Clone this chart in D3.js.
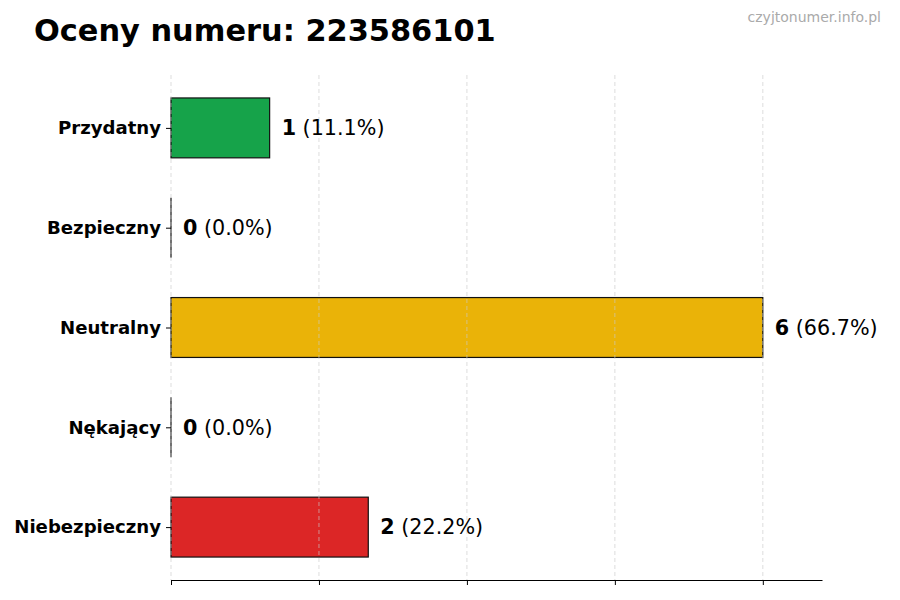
<!DOCTYPE html>
<meta charset="utf-8">
<script src="https://d3js.org/d3.v7.min.js"></script>
<style>
  body { margin: 0; background: #fff; }
  text { font-family: "DejaVu Sans", sans-serif; }
</style>
<svg id="chart" width="900" height="600"></svg>
<script>
// data
const categories = ["Przydatny", "Bezpieczny", "Neutralny", "Nękający", "Niebezpieczny"];
const counts = [1, 0, 6, 0, 2];
const colors = ["#16a34a", "#22c55e", "#eab308", "#f97316", "#dc2626"];
const xTicks = [0, 1.5, 3, 4.5, 6];

const total = d3.sum(counts);
const svg = d3.select("#chart");

const mLeft = 171, mRight = 822, mTop = 75, mBottom = 580;

const x = d3.scaleLinear().domain([0, 6.6]).range([mLeft, mRight]);
// index scale, bars 0.6 tall with the usual 5% margins
const y = d3.scaleLinear().domain([-0.53, 4.53]).range([mTop, mBottom]);
const barH = y(0.3) - y(0);

// title + watermark
svg.append("text")
  .attr("x", 34).attr("y", 41)
  .attr("font-size", 30.4).attr("font-weight", "bold")
  .text("Oceny numeru: 223586101");

svg.append("text")
  .attr("x", 881).attr("y", 22)
  .attr("text-anchor", "end")
  .attr("font-size", 14).attr("fill", "#aaaaaa")
  .text("czyjtonumer.info.pl");

// bars
svg.append("g")
  .selectAll("rect")
  .data(counts)
  .join("rect")
    .attr("x", x(0))
    .attr("y", (d, i) => y(i) - barH)
    .attr("width", d => x(d) - x(0))
    .attr("height", barH * 2)
    .attr("fill", (d, i) => colors[i])
    .attr("stroke", "#111")
    .attr("stroke-width", 1.2);

// zero bars still show their edge
svg.append("g")
  .selectAll("line")
  .data(counts.map((d, i) => ({ d, i })).filter(o => o.d === 0))
  .join("line")
    .attr("x1", x(0)).attr("x2", x(0))
    .attr("y1", o => y(o.i) - barH).attr("y2", o => y(o.i) + barH)
    .attr("stroke", "#111")
    .attr("stroke-width", 1.2);

// grid drawn over the bars
svg.append("g")
  .selectAll("line")
  .data(xTicks)
  .join("line")
    .attr("x1", d => x(d)).attr("x2", d => x(d))
    .attr("y1", mTop).attr("y2", mBottom)
    .attr("stroke", "#cccccc")
    .attr("stroke-width", 0.8)
    .attr("stroke-dasharray", "4,3")
    .attr("opacity", 0.8);

// bottom axis, no labels
const xAxis = svg.append("g")
  .attr("transform", `translate(0,${mBottom})`)
  .call(d3.axisBottom(x).tickValues(xTicks).tickFormat("").tickSize(5).tickSizeOuter(0));
xAxis.select(".domain").attr("stroke", "#000").attr("stroke-width", 1.2);
xAxis.selectAll(".tick line").attr("stroke", "#000").attr("stroke-width", 1);

// left axis: ticks and labels, no spine
const yAxis = svg.append("g")
  .attr("transform", `translate(${mLeft},0)`)
  .call(d3.axisLeft(y).tickValues(d3.range(categories.length))
    .tickFormat(i => categories[i]).tickSize(5).tickPadding(5));
yAxis.select(".domain").remove();
yAxis.selectAll(".tick line").attr("stroke", "#000");
yAxis.selectAll(".tick text")
  .attr("font-family", "DejaVu Sans, sans-serif")
  .attr("font-size", 18.1).attr("font-weight", "bold").attr("fill", "#000");

// value labels
const lbl = svg.append("g")
  .selectAll("text")
  .data(counts)
  .join("text")
    .attr("x", d => x(d) + 12)
    .attr("y", (d, i) => y(i))
    .attr("dy", "0.35em")
    .attr("font-size", 20.7);
lbl.append("tspan").attr("font-weight", "bold").text(d => d);
lbl.append("tspan").text(d => ` (${(d / total * 100).toFixed(1)}%)`);
</script>
